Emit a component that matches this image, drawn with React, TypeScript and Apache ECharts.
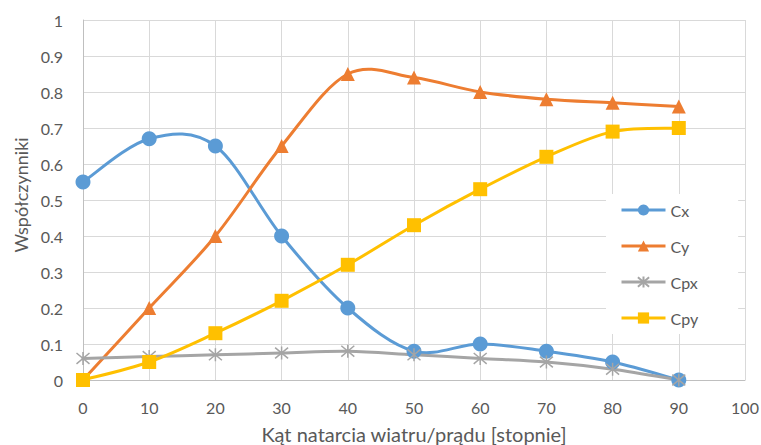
import React, { useEffect, useRef } from "react";
import * as echarts from "echarts";

// Angle of attack (degrees) and the four coefficient series
const angles = [0, 10, 20, 30, 40, 50, 60, 70, 80, 90];
const cx = [0.55, 0.67, 0.65, 0.4, 0.2, 0.08, 0.1, 0.08, 0.05, 0.0];
const cy = [0.0, 0.2, 0.4, 0.65, 0.85, 0.84, 0.8, 0.78, 0.77, 0.76];
const cpx = [0.06, 0.065, 0.07, 0.075, 0.08, 0.07, 0.06, 0.05, 0.03, 0.0];
const cpy = [0.0, 0.05, 0.13, 0.22, 0.32, 0.43, 0.53, 0.62, 0.69, 0.7];

const seriesNames = ["Cx", "Cy", "Cpx", "Cpy"];
const seriesColors = ["#5B9BD5", "#ED7D31", "#A5A5A5", "#FFC000"];

const FONT = "Lato, 'Liberation Sans', sans-serif";
const TEXT = "#595959";

const asterisk = "path://M0,0L10,10M10,0L0,10M5,-1L5,11";

const markers = [
  { symbol: "circle", size: 15 },
  { symbol: "triangle", size: 14 },
  { symbol: asterisk, size: 13 },
  { symbol: "rect", size: 14 },
];

export default function App() {
  const ref = useRef<HTMLDivElement>(null);

  useEffect(() => {
    if (!ref.current) return;
    const chart = echarts.init(ref.current, null, { renderer: "svg" });
    const data = [cx, cy, cpx, cpy];
    const pairs = (vals: number[]) => angles.map((a, i) => [a, vals[i]]);

    // Cardinal-spline segment between point i and i+1, built in pixel space
    const curveSeries = (vals: number[], color: string, idx: number) => ({
      type: "custom",
      name: seriesNames[idx] + "-curve",
      data: pairs(vals),
      z: 2,
      silent: true,
      renderItem: (params: any, api: any) => {
        const i = params.dataIndex;
        const n = vals.length;
        if (i >= n - 1) return null;
        const p = (k: number) => {
          const j = Math.max(0, Math.min(n - 1, k));
          return api.coord([angles[j], vals[j]]);
        };
        const p0 = p(i - 1);
        const p1 = p(i);
        const p2 = p(i + 1);
        const p3 = p(i + 2);
        return {
          type: "bezierCurve",
          shape: {
            x1: p1[0],
            y1: p1[1],
            cpx1: p1[0] + (p2[0] - p0[0]) / 6,
            cpy1: p1[1] + (p2[1] - p0[1]) / 6,
            cpx2: p2[0] - (p3[0] - p1[0]) / 6,
            cpy2: p2[1] - (p3[1] - p1[1]) / 6,
            x2: p2[0],
            y2: p2[1],
          },
          style: { stroke: color, lineWidth: 3, fill: "none", lineCap: "round" },
        };
      },
    });

    const markerSeries = (vals: number[], color: string, idx: number) => ({
      name: seriesNames[idx],
      type: "line",
      data: pairs(vals),
      symbol: markers[idx].symbol,
      symbolSize: markers[idx].size,
      showAllSymbol: true,
      z: 3,
      lineStyle: { color, width: 3, opacity: 0 },
      itemStyle:
        idx === 2
          ? { color, borderColor: color, borderWidth: 1.5 }
          : { color, borderWidth: 0 },
    });

    const series: any[] = [];
    data.forEach((vals, i) => {
      series.push(curveSeries(vals, seriesColors[i], i));
      series.push(markerSeries(vals, seriesColors[i], i));
    });

    chart.setOption({
      animation: false,
      backgroundColor: "#ffffff",
      textStyle: { fontFamily: FONT },
      grid: { left: 83, right: 16, top: 20, bottom: 65, outerBoundsMode: "none" },
      legend: {
        orient: "vertical",
        left: 606,
        top: 194,
        itemWidth: 44,
        itemHeight: 14,
        itemGap: 20,
        padding: [8, 40, 8, 14],
        backgroundColor: "#ffffff",
        lineStyle: { opacity: 1, width: 3 },
        textStyle: { color: TEXT, fontSize: 16, fontFamily: FONT },
        data: seriesNames,
      },
      xAxis: {
        type: "value",
        min: 0,
        max: 100,
        interval: 10,
        name: "Kąt natarcia wiatru/prądu [stopnie]",
        nameLocation: "middle",
        nameGap: 44,
        nameTextStyle: { color: TEXT, fontSize: 20, fontFamily: FONT },
        axisLine: { show: true, lineStyle: { color: "#BFBFBF", width: 1 } },
        axisTick: { show: false },
        axisLabel: { color: TEXT, fontSize: 16, margin: 19, fontFamily: FONT },
        splitLine: { show: true, lineStyle: { color: "#D9D9D9", width: 1 } },
      },
      yAxis: {
        type: "value",
        min: 0,
        max: 1,
        interval: 0.1,
        name: "Współczynniki",
        nameLocation: "middle",
        nameGap: 52,
        nameRotate: 90,
        nameTextStyle: {
          color: TEXT,
          fontSize: 18,
          fontFamily: FONT,
          padding: [0, 0, 0, 10],
        },
        axisLine: { show: true, lineStyle: { color: "#BFBFBF", width: 1 } },
        axisTick: { show: false },
        axisLabel: { color: TEXT, fontSize: 16, margin: 20, fontFamily: FONT },
        splitLine: { show: true, lineStyle: { color: "#D9D9D9", width: 1 } },
      },
      series,
    });

    return () => chart.dispose();
  }, []);

  return (
    <div
      ref={ref}
      style={{ position: "fixed", left: 0, top: 0, width: 761, height: 445 }}
    />
  );
}
